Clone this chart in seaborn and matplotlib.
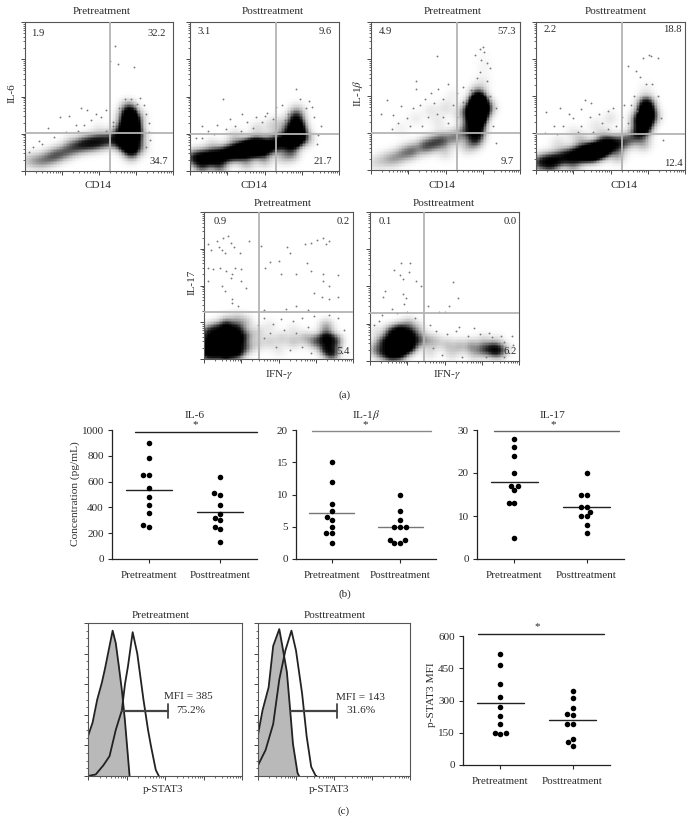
import numpy as np
import pandas as pd
import matplotlib
matplotlib.use("Agg")
import matplotlib.pyplot as plt
import seaborn as sns

W, H = 693, 823

groups = ["Pretreatment", "Posttreatment"]

# panel (b) and (c) values
il6_pre = [900, 783, 650, 650, 553, 480, 420, 354, 263, 250]
il6_post = [638, 510, 500, 420, 349, 318, 300, 250, 230, 130]
il6_means = [535, 364]
il1b_pre = [15, 12, 8.5, 7.5, 6.5, 6, 5, 4, 4, 2.5]
il1b_post = [10, 7.5, 6, 5, 5, 5, 3, 3, 2.5, 2.5]
il1b_means = [7.2, 5]
il17_pre = [28, 26, 24, 20, 17, 17, 16, 13, 13, 5]
il17_post = [20, 15, 15, 12, 12, 11, 10, 10, 8, 6]
il17_means = [18, 12]
stat_pre = [518, 465, 379, 314, 268, 230, 189, 151, 151, 145]
stat_post = [345, 311, 263, 235, 232, 190, 189, 120, 107, 90]
stat_means = [289, 209]

# histogram outlines, channel (0-100) against height (0-100)
h1_iso_x = [0, 3, 6, 9, 11, 14, 16, 18, 20, 22, 24, 27]
h1_iso_y = [26, 35, 50, 61, 70, 85, 95, 87, 72, 56, 36, 0]
h1_stain_x = [0, 5, 10, 14, 18, 22, 24, 26, 29, 32, 34, 36, 39, 41, 44, 46]
h1_stain_y = [0, 1, 7, 13, 30, 43, 60, 72, 94, 80, 65, 50, 30, 19, 4, 0]
h2_iso_x = [0, 3, 7, 10, 14, 16, 19, 21, 23, 26, 27]
h2_iso_y = [27, 43, 58, 85, 96, 85, 68, 45, 21, 2, 0]
h2_stain_x = [0, 5, 10, 14, 18, 22, 25, 29, 32, 35, 38, 38.5]
h2_stain_y = [7, 17, 34, 63, 82, 95, 82, 54, 26, 6, 0, 0]

# flow panels, density read in 0-100 channels as x, y, weight
il6_pre_cloud = [(2, 7, 1), (7, 7, 1.5), (12, 7, 2), (17, 9, 2.5), (22, 11, 3), (28, 13, 3), (34, 16, 3.5), (40, 18, 4.5),
                 (46, 19, 5), (52, 20, 4.5), (58, 21, 3.5), (64, 22, 5), (71, 20, 12), (72, 16, 7), (72, 26, 16),
                 (72, 32, 16), (71, 38, 8), (70, 43, 2), (30, 20, .5), (50, 28, .5), (66, 36, 1), (78, 24, 2),
                 (78, 36, 1), (66, 28, 4), (66, 18, 3), (78, 16, 2), (72, 11, 2)]
il6_post_cloud = [(2, 9, 4), (8, 9, 6), (14, 9, 7), (20, 10, 7), (26, 12, 7), (32, 13, 9), (38, 15, 12), (44, 16, 16),
                  (50, 16, 9), (56, 18, 6), (62, 20, 6), (68, 20, 9), (72, 23, 11), (72, 29, 9), (71, 35, 5),
                  (72, 40, 1.5), (30, 22, 1.5), (45, 28, 1), (55, 30, 1), (15, 17, 1), (60, 32, .8), (38, 6, 2),
                  (50, 8, 2), (20, 3, 3), (8, 3, 3), (62, 10, 1.5), (78, 22, 2), (66, 28, 3), (68, 12, 3)]
il1b_pre_cloud = [(3, 5, 1), (10, 7, 1.5), (16, 8, 2), (22, 11, 2.5), (28, 13, 3), (36, 16, 3.5), (42, 18, 3.5),
                  (48, 20, 3.5), (56, 22, 3), (64, 26, 3.5), (70, 20, 4), (71, 26, 7), (71, 34, 16), (72, 40, 22),
                  (72, 46, 14), (72, 52, 3), (40, 40, .6), (50, 42, .8), (30, 35, .5), (20, 28, .4), (55, 50, .4),
                  (75, 60, .5), (76, 70, .3), (75, 78, .15), (45, 32, .6), (60, 38, 1), (65, 16, 1.5), (50, 12, 1),
                  (66, 40, 4), (78, 42, 3), (66, 32, 2)]
il1b_post_cloud = [(2, 5, 4), (8, 6, 5), (14, 7, 5), (20, 9, 5), (26, 10, 6), (32, 11, 10), (38, 12, 15), (44, 14, 12),
                   (50, 17, 7), (56, 18, 4), (62, 20, 3), (68, 24, 4), (72, 28, 7), (73, 34, 11), (74, 40, 9),
                   (74, 45, 5), (40, 30, .6), (50, 35, .7), (25, 25, .6), (15, 18, .8), (30, 20, 1.5), (74, 55, .4),
                   (45, 22, 2), (55, 10, 2), (72, 18, 2), (10, 2, 2), (25, 3, 2), (68, 34, 2.5), (78, 36, 2.5)]
il17_pre_cloud = [(2, 10, 12), (2, 4, 10), (2, 18, 7), (8, 5, 15), (8, 13, 15), (8, 20, 8), (15, 4, 15), (15, 12, 22),
                  (15, 20, 14), (15, 25, 3), (22, 5, 13), (22, 13, 16), (22, 20, 9), (22, 27, 2.5), (28, 8, 5),
                  (28, 16, 5), (28, 25, 2.5), (36, 10, 2), (36, 18, 2), (44, 12, 2), (52, 14, 2), (60, 12, 2.5),
                  (68, 14, 3), (75, 12, 6), (82, 14, 12), (82, 7, 8), (86, 4, 8), (88, 12, 7), (82, 22, 4),
                  (50, 6, 1), (60, 20, 1), (44, 22, 1)]
il17_post_cloud = [(3, 8, 3), (8, 6, 6), (8, 13, 5), (14, 5, 12), (14, 12, 14), (14, 19, 7), (20, 6, 14), (20, 13, 22),
                   (20, 20, 12), (26, 10, 14), (26, 17, 12), (26, 24, 4), (32, 14, 6), (32, 21, 2.5), (38, 14, 3),
                   (44, 13, 2.5), (52, 11, 2.5), (60, 10, 3), (68, 10, 4), (76, 8, 6), (82, 8, 8), (86, 7, 7),
                   (90, 8, 2), (76, 14, 1.5), (85, 14, 1), (4, 20, 1), (40, 6, 1.5), (55, 5, 1.5), (70, 5, 2)]

# single events outside the dense parts
il6_pre_dots = [(61, 84), (58, 74), (63, 72), (74, 70), (38, 42), (42, 41), (30, 37), (16, 29), (24, 36), (48, 38),
                (55, 41), (78, 49), (72, 48), (68, 48), (81, 44), (84, 32), (85, 21), (6, 16), (10, 20), (35, 31),
                (45, 34), (52, 36), (60, 30), (36, 27), (28, 26), (20, 23), (12, 18), (3, 13), (60, 33), (64, 42),
                (76, 45), (82, 38), (84, 26), (82, 16), (40, 31), (55, 27)]
il6_post_dots = [(22, 48), (71, 55), (74, 48), (82, 43), (62, 44), (8, 30), (18, 31), (27, 35), (35, 38), (44, 36),
                 (52, 39), (58, 43), (88, 30), (85, 18), (4, 22), (12, 27), (66, 38), (80, 47), (30, 30), (48, 33),
                 (24, 28), (38, 33), (56, 35), (16, 25), (8, 22), (42, 29), (64, 34), (83, 36), (34, 27), (50, 37),
                 (78, 42), (86, 24)]
il1b_pre_dots = [(73, 82), (75, 83), (76, 80), (70, 78), (74, 74), (78, 72), (80, 69), (44, 77), (73, 66), (71, 62),
                 (30, 60), (11, 47), (20, 43), (30, 55), (45, 55), (52, 58), (58, 52), (62, 56), (7, 38), (15, 37),
                 (36, 48), (42, 45), (24, 35), (84, 42), (82, 30), (84, 18), (48, 36), (34, 30), (18, 32), (28, 42),
                 (38, 36), (48, 48), (55, 44), (62, 46), (26, 30), (14, 28), (33, 44), (44, 38), (52, 32), (40, 52),
                 (58, 36), (67, 54), (80, 50), (78, 60)]
il1b_post_dots = [(77, 77), (72, 76), (76, 78), (82, 76), (62, 70), (67, 67), (70, 63), (74, 58), (78, 58), (30, 41),
                  (16, 42), (7, 39), (33, 47), (37, 45), (48, 40), (59, 44), (64, 44), (18, 30), (25, 35), (44, 32),
                  (84, 35), (85, 20), (54, 30), (38, 26), (12, 30), (22, 38), (30, 30), (42, 38), (52, 42), (58, 36),
                  (36, 36), (6, 25), (14, 24), (28, 26), (48, 28), (62, 32), (68, 40), (66, 50), (82, 50)]
il17_pre_dots = [(3, 78), (5, 74), (9, 80), (13, 82), (16, 84), (18, 79), (12, 74), (10, 76), (14, 72), (20, 76),
                 (24, 72), (30, 80), (3, 62), (6, 61), (11, 62), (15, 60), (19, 58), (21, 62), (25, 61), (18, 55),
                 (25, 53), (3, 53), (12, 50), (14, 46), (19, 41), (28, 48), (19, 38), (23, 36),
                 (38, 77), (41, 62), (44, 66), (50, 67), (56, 76), (58, 72), (68, 78), (72, 79), (76, 81), (80, 82),
                 (82, 78), (84, 80), (69, 65), (72, 60), (52, 58), (62, 58), (80, 58), (90, 57), (80, 53), (84, 50),
                 (74, 45), (79, 42), (90, 42), (84, 41), (62, 36), (40, 33), (55, 34), (70, 33),
                 (40, 28), (46, 24), (52, 27), (60, 26), (66, 28), (74, 29), (84, 30), (90, 28), (44, 18), (54, 20),
                 (62, 18), (70, 22), (48, 8), (58, 6), (66, 8), (40, 14), (36, 23), (94, 20), (92, 8), (72, 4)]
il17_post_dots = [(21, 66), (27, 66), (16, 61), (20, 58), (26, 60), (22, 55), (31, 54), (10, 47), (9, 43), (22, 45),
                  (24, 42), (34, 50), (56, 53), (59, 42), (53, 37), (39, 37), (23, 38), (15, 35), (25, 33), (50, 33),
                  (8, 31), (18, 32), (46, 33), (88, 17), (80, 19), (70, 22), (60, 23), (40, 24), (95, 17),
                  (44, 20), (52, 18), (58, 20), (66, 17), (74, 18), (82, 16), (90, 13), (96, 11), (48, 4), (62, 3),
                  (78, 3), (90, 3), (42, 9), (6, 27), (3, 24), (30, 29)]

# labels
flow_labels = ["1.9", "32.2", "34.7", "3.1", "9.6", "21.7", "4.9", "57.3", "9.7", "2.2", "18.8", "12.4",
               "0.9", "0.2", "5.4", "0.1", "0.0", "6.2"]

sns.set_style("ticks")
plt.rcParams["font.family"] = ["Liberation Serif", "DejaVu Serif"]
plt.rcParams["mathtext.fontset"] = "stix"
plt.rcParams["text.color"] = "#2b2b2b"
plt.rcParams["axes.labelcolor"] = "#2b2b2b"
plt.rcParams["xtick.color"] = "#2b2b2b"
plt.rcParams["ytick.color"] = "#2b2b2b"

fig = plt.figure(figsize=(W / 100, H / 100), dpi=100)
grey_map = sns.blend_palette(["#ffffff", "#bdbdbd", "#6a6a6a", "#1e1e1e", "#000000"], as_cmap=True)
decades = [d + np.log10(m) for d in range(4) for m in range(1, 10)] + [4]
log_ticks = np.array(decades) * 25
channels = np.arange(.5, 100, 1.0)


def make_ax(left, top, right, bottom):
    return fig.add_axes([left / W, 1 - bottom / H, (right - left) / W, (bottom - top) / H])


def label(x, y, s, size=7.7, rotation=0):
    fig.text(x / W, 1 - y / H, s, ha="center", va="center", fontsize=size, rotation=rotation)


def log_axes(ax):
    ax.set_xticks(log_ticks[::9])
    ax.set_xticks(log_ticks, minor=True)
    ax.tick_params(which="major", length=3, width=.6, labelbottom=False, labelleft=False, pad=1)
    ax.tick_params(which="minor", length=1.6, width=.5)
    for side in ax.spines:
        ax.spines[side].set_linewidth(.8)
        ax.spines[side].set_color("#555555")


def flow(box, cloud, dots, vline, hline, vmax=8, sigma=3.7):
    # density layer under the axes, kernel smoothing of the read weights
    back = make_ax(*box)
    xx, yy = np.meshgrid(channels, channels)
    density = np.zeros_like(xx)
    for cx, cy, cw in cloud:
        density += cw * np.exp(-((xx - cx) ** 2 + (yy - cy) ** 2) / (2 * sigma ** 2))
    sns.heatmap(density[::-1], vmin=0, vmax=vmax, cmap=grey_map, cbar=False, xticklabels=False, yticklabels=False, ax=back)
    back.axis("off")
    ax = make_ax(*box)
    ax.patch.set_alpha(0)
    dx, dy = zip(*dots)
    sns.scatterplot(x=dx, y=dy, s=1.8, color="#7a7a7a", linewidth=0, ax=ax)
    ax.axvline(vline, color="#b4b4b4", lw=1.3, zorder=5)
    ax.axhline(hline, color="#b4b4b4", lw=1.3, zorder=5)
    ax.set_xlim(0, 100)
    ax.set_ylim(0, 100)
    log_axes(ax)
    ax.set_yticks(log_ticks[::9])
    ax.set_yticks(log_ticks, minor=True)
    return ax


flow((24.5, 22, 172.5, 171), il6_pre_cloud, il6_pre_dots, 57.8, 25.5)
flow((190, 22, 339, 171), il6_post_cloud, il6_post_dots, 57.7, 24.8)
flow((371, 22, 520, 170), il1b_pre_cloud, il1b_pre_dots, 57.8, 25)
flow((536, 22, 685, 170), il1b_post_cloud, il1b_post_dots, 57.8, 24.3)
flow((204, 212, 353, 359), il17_pre_cloud, il17_pre_dots, 37, 32, vmax=14, sigma=3.4)
flow((370, 212, 519, 361), il17_post_cloud, il17_post_dots, 36.5, 32, vmax=14, sigma=3.4)

flow_text_pos = [(38, 33), (157, 33), (159, 161), (204, 31), (325, 31), (323, 161), (385, 31), (507, 31), (507, 161),
                 (550, 29), (672, 29), (673, 163), (220, 221), (343, 221), (343, 351), (385, 221), (510, 221),
                 (510, 351)]
for (tx, ty), s in zip(flow_text_pos, flow_labels):
    label(tx, ty, s)

for tx, ty, s in [(102, 11, groups[0]), (273, 11, groups[1]), (453, 11, groups[0]), (616, 11, groups[1]),
                  (283, 203, groups[0]), (444, 203, groups[1]), (161, 615, groups[0]), (335, 615, groups[1])]:
    label(tx, ty, s, size=8.1)
for tx, ty, s in [(98, 186, "CD14"), (254, 186, "CD14"), (442, 186, "CD14"), (624, 186, "CD14"),
                  (279, 374, r"IFN-$\gamma$"), (447, 374, r"IFN-$\gamma$"), (163, 790, "p-STAT3"),
                  (329, 790, "p-STAT3")]:
    label(tx, ty, s, size=8)
label(12, 93, "IL-6", size=8, rotation=90)
label(358, 93, r"IL-1$\beta$", size=8, rotation=90)
label(192, 282, "IL-17", size=8, rotation=90)
label(345, 395, "(a)", size=8)
label(345, 594, "(b)", size=8)
label(344, 811, "(c)", size=8)


def dots_panel(box, pre, post, means, ymax, yticks, sig, sig_color="#222222", line_color="#222222"):
    ax = make_ax(*box)
    df = pd.DataFrame({"group": [groups[0]] * len(pre) + [groups[1]] * len(post), "value": pre + post})
    ax.set_ylim(0, ymax)
    ax.set_xlim(-.52, 1.52)
    sns.swarmplot(data=df, x="group", y="value", order=groups, color="black", size=4, linewidth=0, ax=ax)
    for i, m in enumerate(means):
        ax.plot([i - .33, i + .33], [m, m], color=line_color, lw=1)
    ax.plot(sig[:2], [sig[2], sig[2]], color=sig_color, lw=1, clip_on=False)
    ax.set_xlim(-.52, 1.52)
    ax.set_ylim(0, ymax)
    ax.set_yticks(yticks)
    ax.set_xlabel("")
    ax.set_ylabel("")
    ax.tick_params(length=3, width=.8, labelsize=8, pad=3)
    ax.tick_params(axis="x", pad=6)
    for t in ax.get_xticklabels():
        t.set_fontsize(7.9)
    sns.despine(ax=ax)
    for side in ["left", "bottom"]:
        ax.spines[side].set_linewidth(.9)
        ax.spines[side].set_color("#222222")
    return ax


dots_panel((112, 430, 257, 559), il6_pre, il6_post, il6_means, 1000, [0, 200, 400, 600, 800, 1000], (-.2, 1.52, 985))
dots_panel((296, 430, 436, 559), il1b_pre, il1b_post, il1b_means, 20, [0, 5, 10, 15, 20], (-.29, 1.45, 19.9),
           "#888888", "#777777")
dots_panel((477, 430, 624, 559), il17_pre, il17_post, il17_means, 30, [0, 10, 20, 30], (-.29, 1.45, 29.8),
           "#666666", "#222222")
dots_panel((463, 636, 610, 765), stat_pre, stat_post, stat_means, 600, [0, 150, 300, 450, 600], (-.31, 1.43, 607))

label(195, 415, "IL-6", size=8.2)
label(366, 415, r"IL-1$\beta$", size=8.2)
label(553, 415, "IL-17", size=8.2)
for sx, sy in [(195, 425), (365, 425), (553, 425), (537, 627)]:
    label(sx, sy, "*", size=8)
label(75, 494, "Concentration (pg/mL)", size=8.2, rotation=90)
label(432, 695, "p-STAT3 MFI", size=8.2, rotation=90)


def histogram(box, iso_x, iso_y, stain_x, stain_y, gate, mfi):
    ax = make_ax(*box)
    ax.fill_between(iso_x, iso_y, color="#b9b9b9", lw=0)
    sns.lineplot(x=iso_x, y=iso_y, color="#222222", lw=1.3, ax=ax, estimator=None, sort=False)
    sns.lineplot(x=stain_x, y=stain_y, color="#222222", lw=1.3, ax=ax, estimator=None, sort=False)
    ax.plot(gate[:2], [gate[2], gate[2]], color="#444444", lw=1.6)
    ax.plot([gate[1], gate[1]], [gate[2] - 4.5, gate[2] + 4.5], color="#444444", lw=1.3)
    ax.set_xlim(0, 100)
    ax.set_ylim(0, 100)
    log_axes(ax)
    ax.set_yticks(np.arange(0, 101, 20))
    ax.set_yticks(np.arange(0, 101, 5), minor=True)
    ax.text(*mfi[0], mfi[1], ha="center", va="center", fontsize=8.1)
    ax.text(*mfi[2], mfi[3], ha="center", va="center", fontsize=8.1)
    return ax


histogram((88, 623, 242, 776), h1_iso_x, h1_iso_y, h1_stain_x, h1_stain_y, (22.4, 52.2, 42.7),
          ((65, 52), "MFI = 385", (66.5, 42.7), "75.2%"))
histogram((258, 623, 410, 776), h2_iso_x, h2_iso_y, h2_stain_x, h2_stain_y, (22, 52.3, 42.5),
          ((67.5, 51.5), "MFI = 143", (67.8, 42.7), "31.6%"))

fig.savefig("out.png", dpi=100)
